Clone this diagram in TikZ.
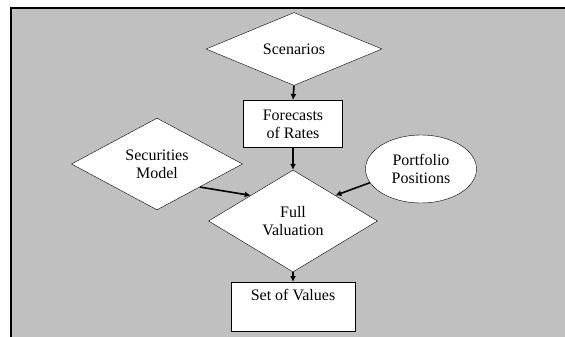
\documentclass[tikz,border=0pt]{standalone}
\usepackage{fontspec}
\setmainfont{Liberation Serif}
\usetikzlibrary{shapes.geometric,arrows.meta}
\definecolor{panel}{HTML}{C0C0C0}
\tikzset{dmd/.style={diamond, draw, fill=white, inner sep=0pt, align=center}}
\tikzset{blk/.style={rectangle, draw, fill=white, line width=1pt, align=center}}
\tikzset{oval/.style={ellipse, draw, fill=white, inner sep=0pt, align=center}}
\tikzset{edge/.style={color=black, line width=1.6pt, -{Latex[length=6pt,width=6pt]}}}

\begin{document}
\begin{tikzpicture}[x=1pt, y=-1pt, font=\fontsize{16}{18}\selectfont]
  \useasboundingbox (0,0) rectangle (565,337);
  \fill[panel] (11,8) rectangle (565,337);
  \draw[line width=1.5pt] (11,337) -- (11,8) -- (565,8);

  \node[dmd, minimum width=176, minimum height=58] (scen) at (294,49) {Scenarios};
  \node[blk, minimum width=99, minimum height=47] (fore) at (293,124) {Forecasts\\of Rates};
  \node[dmd, minimum width=171, minimum height=78] (secm) at (157,164) {Securities\\Model};
  \node[oval, minimum width=111, minimum height=68] (port) at (421,169) {Portfolio\\Positions};
  \node[dmd, minimum width=169, minimum height=102] (fval) at (293,221) {Full\\Valuation};
  \node[blk, minimum width=124, minimum height=49] (vals) at (293,307) {Set of Values\\\strut};

  \draw[edge] (scen.south) -- (fore.north);
  \draw[edge] (fore.south) -- (fval.north);
  \draw[edge] (secm.south east) -- (fval.north west);
  \draw[edge] (port.195) -- (fval.north east);
  \draw[edge] (fval.south) -- (vals.north);
\end{tikzpicture}
\end{document}
